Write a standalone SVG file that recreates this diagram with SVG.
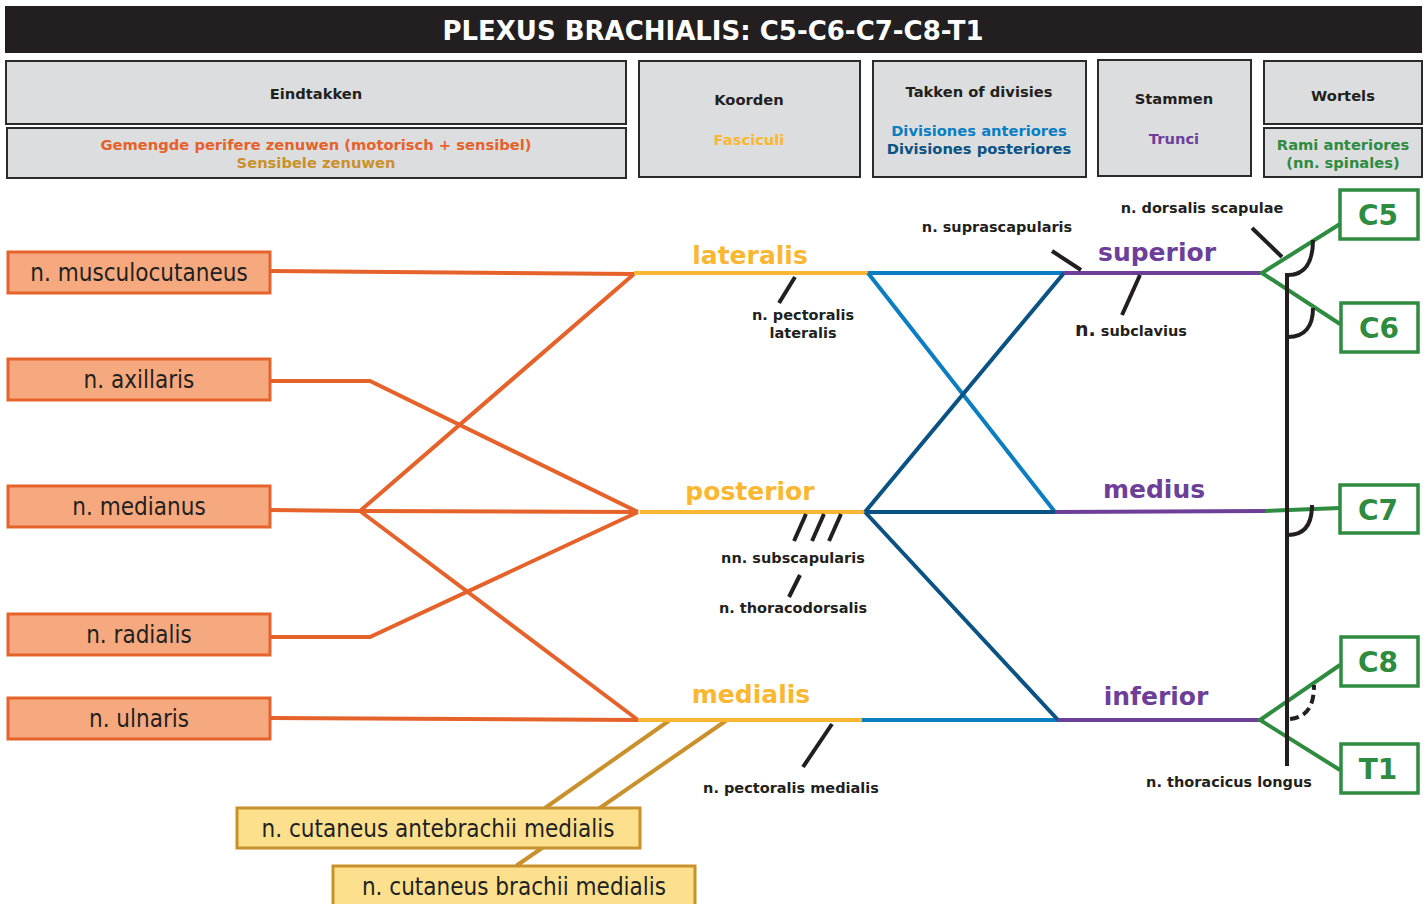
<svg xmlns="http://www.w3.org/2000/svg" width="1427" height="904" viewBox="0 0 1427 904">
  <style>
    .hdr { fill: #dcdddf; stroke: #2b2b2b; stroke-width: 2; }
    .b { font-family: "DejaVu Sans", Verdana, sans-serif; font-weight: bold; text-anchor: middle; }
    .h14 { font-size: 14.7px; }
    .lbl { font-size: 14.5px; fill: #231f20; }
    .nerve { fill: #f6a97f; stroke: #e5622a; stroke-width: 3; }
    .sens { fill: #fde08e; stroke: #c9912b; stroke-width: 3; }
    .ntxt { font-family: "DejaVu Sans Condensed", "DejaVu Sans", sans-serif; font-size: 24px; fill: #231f20; text-anchor: middle; }
    .root { fill: #ffffff; stroke: #2e8b40; stroke-width: 3.5; }
    .rtxt { font-family: "DejaVu Sans", Verdana, sans-serif; font-weight: bold; font-size: 28px; fill: #2e8b40; text-anchor: middle; }
    .cord { font-family: "DejaVu Sans", Verdana, sans-serif; font-weight: bold; font-size: 25px; fill: #fbb731; text-anchor: middle; }
    .trunk { font-family: "DejaVu Sans", Verdana, sans-serif; font-weight: bold; font-size: 25px; fill: #6e3f99; text-anchor: middle; }
    .ln { fill: none; stroke-width: 4; stroke-linejoin: miter; }
    .or { stroke: #e5622a; }
    .ye { stroke: #fbb731; }
    .go { stroke: #c9912b; }
    .lb { stroke: #0b7dc1; }
    .db { stroke: #0a5283; }
    .pu { stroke: #6e3f99; }
    .gr { stroke: #2e8b40; }
    .tk { fill: none; stroke: #231f20; stroke-width: 4; }
  </style>

  <!-- title bar -->
  <g id="title">
    <rect x="5" y="6" width="1417" height="47" fill="#231f20"/>
    <text x="713" y="40" class="b" font-size="26" fill="#ffffff">PLEXUS BRACHIALIS: C5-C6-C7-C8-T1</text>
  </g>

  <!-- column headers -->
  <g id="hdr-eindtakken">
    <rect class="hdr" x="6" y="61" width="620" height="63"/>
    <text x="316" y="99" class="b h14" fill="#231f20">Eindtakken</text>
    <rect class="hdr" x="7" y="128" width="619" height="50"/>
    <text x="316" y="150" class="b h14" fill="#e5622a">Gemengde perifere zenuwen (motorisch + sensibel)</text>
    <text x="316" y="168" class="b h14" fill="#c9912b">Sensibele zenuwen</text>
  </g>
  <g id="hdr-koorden">
    <rect class="hdr" x="639" y="61" width="221" height="116"/>
    <text x="749" y="105" class="b h14" fill="#231f20">Koorden</text>
    <text x="749" y="145" class="b h14" fill="#fbb731">Fasciculi</text>
  </g>
  <g id="hdr-takken">
    <rect class="hdr" x="873" y="61" width="213" height="116"/>
    <text x="979" y="97" class="b h14" fill="#231f20">Takken of divisies</text>
    <text x="979" y="136" class="b h14" fill="#0b7dc1">Divisiones anteriores</text>
    <text x="979" y="154" class="b h14" fill="#0a5283">Divisiones posteriores</text>
  </g>
  <g id="hdr-stammen">
    <rect class="hdr" x="1098" y="60" width="153" height="116"/>
    <text x="1174" y="104" class="b h14" fill="#231f20">Stammen</text>
    <text x="1174" y="144" class="b h14" fill="#6e3f99">Trunci</text>
  </g>
  <g id="hdr-wortels">
    <rect class="hdr" x="1264" y="61" width="158" height="63"/>
    <text x="1343" y="101" class="b h14" fill="#231f20">Wortels</text>
    <rect class="hdr" x="1264" y="128" width="158" height="49"/>
    <text x="1343" y="150" class="b h14" fill="#2e8b40">Rami anteriores</text>
    <text x="1343" y="168" class="b h14" fill="#2e8b40">(nn. spinales)</text>
  </g>

  <!-- connectors -->
  <g id="connectors">
    <!-- terminal branches to cords -->
    <polyline class="ln or" points="270,271 634,274"/>
    <polyline class="ln or" points="270,381 370,381 638,512"/>
    <polyline class="ln or" points="270,510 360,511 638,512"/>
    <polyline class="ln or" points="634,274 360,511 638,720"/>
    <polyline class="ln or" points="270,637 370,637 638,512"/>
    <polyline class="ln or" points="270,718 638,720"/>
    <!-- sensory branches of medial cord -->
    <line class="ln go" x1="670" y1="720" x2="545" y2="808"/>
    <line class="ln go" x1="727" y1="720" x2="516" y2="866"/>
    <!-- cords -->
    <line class="ln ye" x1="634" y1="273" x2="868" y2="273"/>
    <line class="ln ye" x1="640" y1="512" x2="865" y2="512"/>
    <line class="ln ye" x1="638" y1="720" x2="864" y2="720"/>
    <!-- divisions -->
    <line class="ln lb" x1="868" y1="273" x2="1064" y2="273"/>
    <line class="ln lb" x1="868" y1="273" x2="1055" y2="512"/>
    <line class="ln lb" x1="862" y1="720" x2="1058" y2="720"/>
    <line class="ln db" x1="865" y1="512" x2="1064" y2="273"/>
    <line class="ln db" x1="865" y1="512" x2="1055" y2="512"/>
    <line class="ln db" x1="865" y1="512" x2="1058" y2="720"/>
    <!-- trunks -->
    <line class="ln pu" x1="1064" y1="273" x2="1262" y2="273"/>
    <line class="ln pu" x1="1055" y1="512" x2="1265" y2="511"/>
    <line class="ln pu" x1="1058" y1="720" x2="1260" y2="720"/>
    <!-- roots -->
    <polyline class="ln gr" points="1340,224 1262,273 1340,324"/>
    <line class="ln gr" x1="1265" y1="511" x2="1340" y2="508"/>
    <polyline class="ln gr" points="1340,665 1260,720 1340,770"/>
    <!-- collateral branches -->
    <line class="tk" x1="795" y1="277" x2="779" y2="303"/>
    <line class="tk" x1="806" y1="514" x2="794" y2="541"/>
    <line class="tk" x1="824" y1="514" x2="812" y2="541"/>
    <line class="tk" x1="841" y1="514" x2="829" y2="541"/>
    <line class="tk" x1="800" y1="575" x2="789" y2="597"/>
    <line class="tk" x1="832" y1="724" x2="803" y2="767"/>
    <line class="tk" x1="1052" y1="251" x2="1081" y2="270"/>
    <line class="tk" x1="1140" y1="275" x2="1122" y2="315"/>
    <line class="tk" x1="1252" y1="228" x2="1282" y2="257"/>
    <!-- n. thoracicus longus -->
    <line class="tk" x1="1287" y1="273" x2="1287" y2="766" stroke-width="5"/>
    <path class="tk" d="M1288,275 C1305,275 1313,262 1313,240"/>
    <path class="tk" d="M1288,337 C1305,337 1313,326 1313,308"/>
    <path class="tk" d="M1288,535 C1305,535 1312,524 1312,505"/>
    <path class="tk" d="M1290,719 C1308,717 1314,705 1314,685" stroke-dasharray="9,5"/>
  </g>

  <!-- terminal nerves -->
  <g id="n-musculocutaneus"><rect class="nerve" x="8" y="252" width="262" height="41"/><text class="ntxt" x="139" y="281">n. musculocutaneus</text></g>
  <g id="n-axillaris"><rect class="nerve" x="8" y="359" width="262" height="41"/><text class="ntxt" x="139" y="388">n. axillaris</text></g>
  <g id="n-medianus"><rect class="nerve" x="8" y="486" width="262" height="41"/><text class="ntxt" x="139" y="515">n. medianus</text></g>
  <g id="n-radialis"><rect class="nerve" x="8" y="614" width="262" height="41"/><text class="ntxt" x="139" y="643">n. radialis</text></g>
  <g id="n-ulnaris"><rect class="nerve" x="8" y="698" width="262" height="41"/><text class="ntxt" x="139" y="727">n. ulnaris</text></g>
  <g id="n-cut-antebrachii"><rect class="sens" x="237" y="808" width="403" height="40"/><text class="ntxt" x="438" y="837">n. cutaneus antebrachii medialis</text></g>
  <g id="n-cut-brachii"><rect class="sens" x="333" y="866" width="362" height="42"/><text class="ntxt" x="514" y="895">n. cutaneus brachii medialis</text></g>

  <!-- cords -->
  <g id="f-lateralis"><text class="cord" x="750" y="264">lateralis</text></g>
  <g id="f-posterior"><text class="cord" x="750" y="500">posterior</text></g>
  <g id="f-medialis"><text class="cord" x="751" y="703">medialis</text></g>

  <!-- trunks -->
  <g id="t-superior"><text class="trunk" x="1157" y="261">superior</text></g>
  <g id="t-medius"><text class="trunk" x="1154" y="498">medius</text></g>
  <g id="t-inferior"><text class="trunk" x="1156" y="705">inferior</text></g>

  <!-- roots -->
  <g id="r-c5"><rect class="root" x="1340" y="190" width="78" height="49"/><text class="rtxt" x="1378" y="225">C5</text></g>
  <g id="r-c6"><rect class="root" x="1341" y="303" width="77" height="49"/><text class="rtxt" x="1379" y="338">C6</text></g>
  <g id="r-c7"><rect class="root" x="1340" y="485" width="78" height="48"/><text class="rtxt" x="1378" y="520">C7</text></g>
  <g id="r-c8"><rect class="root" x="1341" y="637" width="77" height="49"/><text class="rtxt" x="1378" y="672">C8</text></g>
  <g id="r-t1"><rect class="root" x="1341" y="744" width="77" height="49"/><text class="rtxt" x="1378" y="779">T1</text></g>

  <!-- collateral branch labels -->
  <g id="labels">
    <text class="b lbl" x="803" y="320">n. pectoralis</text>
    <text class="b lbl" x="803" y="338">lateralis</text>
    <text class="b lbl" x="793" y="563">nn. subscapularis</text>
    <text class="b lbl" x="793" y="613">n. thoracodorsalis</text>
    <text class="b lbl" x="791" y="793">n. pectoralis medialis</text>
    <text class="b lbl" x="997" y="232">n. suprascapularis</text>
    <text class="b lbl" x="1131" y="336"><tspan font-size="19">n.</tspan> subclavius</text>
    <text class="b lbl" x="1202" y="213">n. dorsalis scapulae</text>
    <text class="b lbl" x="1229" y="787">n. thoracicus longus</text>
  </g>
</svg>
